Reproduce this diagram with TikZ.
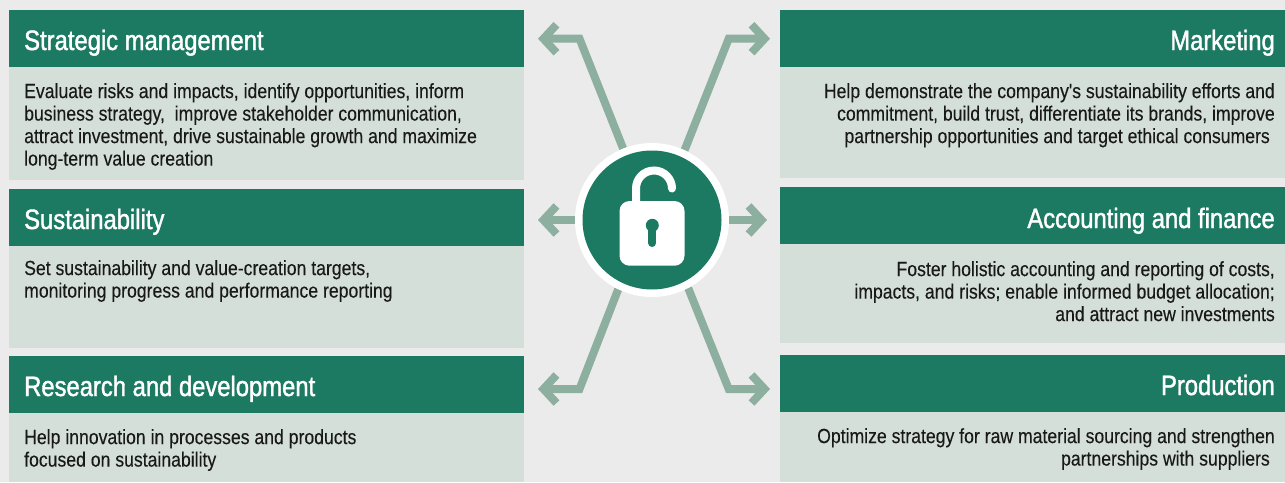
\documentclass[tikz,border=0pt]{standalone}
\usepackage{fontspec}
\newfontfamily\bodyfont[FakeStretch=0.86,FakeBold=0.15]{Liberation Sans}
\newfontfamily\ttlfont[FakeStretch=0.85,FakeBold=1.4]{Liberation Sans}
\usetikzlibrary{arrows.meta,backgrounds}
\definecolor{hdr}{HTML}{1C7A63}
\definecolor{bodyc}{HTML}{D5DFDA}
\definecolor{bgc}{HTML}{EBEBEB}
\definecolor{arr}{HTML}{8DAF9F}
\tikzset{
 x=1pt,y=-1pt,
 hdrL/.style={fill=hdr,inner sep=0pt,outer sep=0pt,anchor=north west,minimum height=57pt,minimum width=515pt},
 hdrR/.style={fill=hdr,inner sep=0pt,outer sep=0pt,anchor=north west,minimum height=57pt,minimum width=505pt},
 panel/.style={fill=bodyc,inner sep=0pt,outer sep=0pt,anchor=north west},
 ttl/.style={text=white,inner sep=0pt,font=\ttlfont\fontsize{28}{30}\selectfont},
 txt/.style={text=black!90,inner sep=0pt,font=\bodyfont\fontsize{20.5}{22.5}\selectfont},
 link/.style={arr,line width=8pt,miter limit=10,-{Straight Barb[length=13pt,width=28pt,line width=8pt]}},
}
\begin{document}
\begin{tikzpicture}
\useasboundingbox (0,0) rectangle (1285,482);
\begin{scope}[on background layer]
\fill[bgc] (0,0) rectangle (1285,482);
\end{scope}
% left column
\node[panel,minimum width=515pt,minimum height=113pt] (bL1) at (9,67) {};
\node[panel,minimum width=515pt,minimum height=102pt] (bL2) at (9,246) {};
\node[panel,minimum width=515pt,minimum height=69pt] (bL3) at (9,413) {};
\node[hdrL] (hL1) at (9,10) {};
\node[hdrL] (hL2) at (9,189) {};
\node[hdrL] (hL3) at (9,356) {};
\node[ttl,anchor=base west] (tL1) at (24,50) {Strategic management};
\node[ttl,anchor=base west] (tL2) at (24,229) {Sustainability};
\node[ttl,anchor=base west] (tL3) at (24,396) {Research and development};
\node[txt,anchor=north west,align=left] (xL1) at (24,83) {Evaluate risks and impacts, identify opportunities, inform\\business strategy,\ \ improve stakeholder communication,\\attract investment, drive sustainable growth and maximize\\long-term value creation};
\node[txt,anchor=north west,align=left] (xL2) at (24,260) {Set sustainability and value-creation targets,\\monitoring progress and performance reporting};
\node[txt,anchor=north west,align=left] (xL3) at (24,429) {Help innovation in processes and products\\focused on sustainability};
% right column
\node[panel,minimum width=505pt,minimum height=111pt] (bR1) at (780,67) {};
\node[panel,minimum width=505pt,minimum height=99pt] (bR2) at (780,244) {};
\node[panel,minimum width=505pt,minimum height=70pt] (bR3) at (780,412) {};
\node[hdrR] (hR1) at (780,10) {};
\node[hdrR] (hR2) at (780,187) {};
\node[hdrR] (hR3) at (780,355) {};
\node[ttl,anchor=base east] (tR1) at (1275,50) {Marketing};
\node[ttl,anchor=base east] (tR2) at (1275,228) {Accounting and finance};
\node[ttl,anchor=base east] (tR3) at (1275,395) {Production};
\node[txt,anchor=north east,align=right] (xR1) at (1275,83) {Help demonstrate the company's sustainability efforts and\\commitment, build trust, differentiate its brands, improve\\partnership opportunities and target ethical consumers\hspace*{5pt}};
\node[txt,anchor=north east,align=right] (xR2) at (1275,261) {Foster holistic accounting and reporting of costs,\\impacts, and risks; enable informed budget allocation;\\and attract new investments};
\node[txt,anchor=north east,align=right] (xR3) at (1275,428) {Optimize strategy for raw material sourcing and strengthen\\partnerships with suppliers\hspace*{5pt}};
% hub
\node[circle,fill=white,inner sep=0pt,outer sep=0pt,minimum size=154pt] (hub) at (652,220) {};
\node[circle,fill=hdr,inner sep=0pt,outer sep=0pt,minimum size=139pt] (core) at (hub.center) {};
% lock
\fill[white,rounded corners=10pt] (619.5,201) rectangle (684.5,265.7);
\draw[white,line width=8pt,line cap=round] (636,203) -- (636,188.5) arc[start angle=180,end angle=0,radius=18pt];
\fill[hdr] (652.3,225.3) circle[radius=6.5pt];
\draw[hdr,line width=8pt,line cap=round] (652.3,228) -- (652.3,243);
% connectors
\coordinate (tTL) at (538,38.7);
\coordinate (cTL) at (579.5,38.7);
\coordinate (tTR) at (770,38.7);
\coordinate (cTR) at (728.7,38.7);
\coordinate (tML) at (538,220);
\coordinate (tMR) at (767,220);
\coordinate (tBL) at (538,389);
\coordinate (cBL) at (579.5,389);
\coordinate (tBR) at (770,389);
\coordinate (cBR) at (728.7,389);
\begin{scope}[on background layer]
\draw[link] (hub.112) -- (cTL) -- (tTL);
\draw[link] (hub.65) -- (cTR) -- (tTR);
\draw[link] (hub.180) -- (tML);
\draw[link] (hub.0) -- (tMR);
\draw[link] (hub.244) -- (cBL) -- (tBL);
\draw[link] (hub.298) -- (cBR) -- (tBR);
\end{scope}
\end{tikzpicture}
\end{document}
